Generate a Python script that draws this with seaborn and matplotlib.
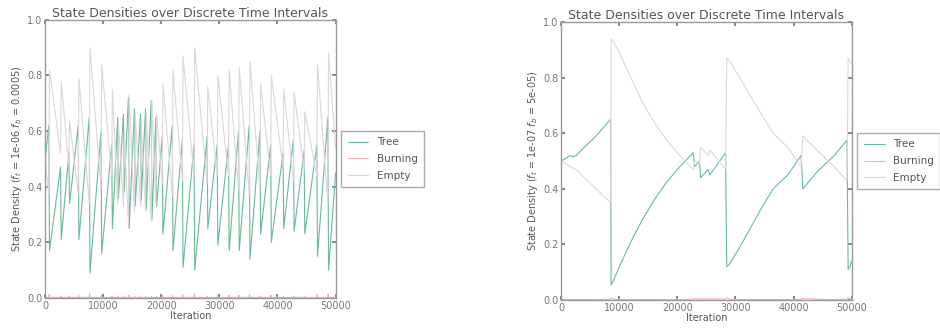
import pandas as pd
import seaborn as sns
import matplotlib
matplotlib.use("Agg")
import matplotlib.pyplot as plt

# 왼쪽: 화재 시점별 나무 밀도 (화재 직전 최고점 / 직후 최저점)
left_fire_iter = [634, 2650, 4090, 5700, 7600, 9620, 11460, 12500, 13480, 14340,
                  15380, 16420, 17280, 18260, 19070, 20160, 21890, 23620, 25630, 27880,
                  29610, 31560, 33290, 35140, 36980, 38820, 40950, 42740, 44580, 46770,
                  48670]
left_tree_peak = [0.62, 0.47, 0.52, 0.62, 0.65, 0.60, 0.55, 0.65, 0.66, 0.72,
                  0.68, 0.66, 0.68, 0.71, 0.65, 0.58, 0.62, 0.57, 0.55, 0.58,
                  0.55, 0.55, 0.60, 0.62, 0.60, 0.55, 0.52, 0.57, 0.53, 0.55,
                  0.65]
left_tree_low = [0.17, 0.21, 0.34, 0.21, 0.09, 0.16, 0.25, 0.36, 0.38, 0.25,
                 0.33, 0.35, 0.32, 0.28, 0.33, 0.23, 0.17, 0.11, 0.10, 0.25,
                 0.19, 0.17, 0.17, 0.14, 0.23, 0.20, 0.25, 0.24, 0.23, 0.15,
                 0.10]
left_empty_low = [0.37, 0.52, 0.47, 0.37, 0.34, 0.39, 0.44, 0.34, 0.33, 0.27,
                  0.31, 0.33, 0.31, 0.28, 0.34, 0.41, 0.37, 0.42, 0.44, 0.41,
                  0.44, 0.44, 0.39, 0.37, 0.39, 0.44, 0.47, 0.42, 0.46, 0.44,
                  0.34]
left_empty_peak = [0.82, 0.78, 0.64, 0.79, 0.90, 0.84, 0.75, 0.63, 0.60, 0.73,
                   0.66, 0.64, 0.67, 0.71, 0.66, 0.77, 0.82, 0.87, 0.90, 0.76,
                   0.80, 0.82, 0.83, 0.85, 0.77, 0.80, 0.75, 0.74, 0.67, 0.84,
                   0.88]
left_burning_fire = [0.012, 0.006, 0.006, 0.01, 0.015, 0.01, 0.006, 0.005, 0.005, 0.01,
                     0.005, 0.005, 0.005, 0.006, 0.005, 0.01, 0.01, 0.012, 0.015, 0.006,
                     0.01, 0.01, 0.01, 0.012, 0.006, 0.01, 0.006, 0.006, 0.006, 0.012,
                     0.015]
left_start = [0.50, 0.50]   # tree, empty at iteration 0
left_end = [0.45, 0.54]     # tree, empty at iteration 50000

# 오른쪽
right_iter = [0, 800, 1500, 2000, 2600, 4000, 6000, 8500,
              8600, 9000, 10000, 12000, 14000, 16000, 18000, 20000,
              22700, 23000, 23800, 24000, 25300, 25600, 28300, 28500,
              29000, 31000, 33000, 35000, 36500, 39000, 41300, 41600,
              44000, 47000, 49200, 49400, 49700, 50000]
right_tree = [0.50, 0.51, 0.52, 0.515, 0.52, 0.55, 0.59, 0.65,
              0.055, 0.07, 0.12, 0.21, 0.29, 0.36, 0.42, 0.47,
              0.53, 0.48, 0.50, 0.44, 0.47, 0.45, 0.53, 0.12,
              0.13, 0.20, 0.275, 0.35, 0.40, 0.45, 0.52, 0.40,
              0.46, 0.52, 0.575, 0.11, 0.12, 0.14]
right_empty = [0.50, 0.49, 0.48, 0.475, 0.47, 0.44, 0.40, 0.35,
               0.94, 0.93, 0.89, 0.80, 0.71, 0.64, 0.58, 0.53,
               0.47, 0.50, 0.49, 0.55, 0.52, 0.54, 0.47, 0.87,
               0.86, 0.79, 0.72, 0.65, 0.60, 0.55, 0.48, 0.59,
               0.54, 0.48, 0.43, 0.87, 0.86, 0.85]
right_burning = [0.0, 0.002, 0.002, 0.002, 0.002, 0.002, 0.002, 0.003,
                 0.008, 0.003, 0.002, 0.002, 0.002, 0.002, 0.002, 0.002,
                 0.003, 0.006, 0.003, 0.006, 0.003, 0.005, 0.003, 0.008,
                 0.003, 0.002, 0.002, 0.002, 0.002, 0.002, 0.003, 0.006,
                 0.003, 0.002, 0.003, 0.01, 0.004, 0.003]

states = ["Tree", "Burning", "Empty"]
colors = {"Tree": "#68bc93", "Burning": "#f3b0b0", "Empty": "#ddd6dd"}


def left_frame():
    rows = [(0, "Tree", left_start[0]), (0, "Burning", 0.0), (0, "Empty", left_start[1])]
    for i, it in enumerate(left_fire_iter):
        rows.append((it, "Tree", left_tree_peak[i]))
        rows.append((it + 120, "Tree", left_tree_low[i]))
        rows.append((it, "Empty", left_empty_low[i]))
        rows.append((it + 120, "Empty", left_empty_peak[i]))
        rows.append((it, "Burning", 0.002))
        rows.append((it + 60, "Burning", left_burning_fire[i]))
        rows.append((it + 120, "Burning", 0.002))
    rows += [(50000, "Tree", left_end[0]), (50000, "Burning", 0.002), (50000, "Empty", left_end[1])]
    return pd.DataFrame(rows, columns=["Iteration", "state", "density"])


def right_frame():
    df = pd.DataFrame({"Iteration": right_iter, "Tree": right_tree,
                       "Burning": right_burning, "Empty": right_empty})
    return df.melt(id_vars="Iteration", var_name="state", value_name="density")


sns.set_theme(style="white")
plt.rcParams["font.family"] = ["DejaVu Sans"]
plt.rcParams["text.color"] = "#555555"
plt.rcParams["axes.labelcolor"] = "#555555"
plt.rcParams["xtick.color"] = "#777777"
plt.rcParams["ytick.color"] = "#777777"

fig = plt.figure(figsize=(9.4, 3.28), dpi=100)
ax1 = fig.add_axes([0.048, 0.0915, 0.309, 0.848])
ax2 = fig.add_axes([0.597, 0.085, 0.309, 0.848])

panels = [
    (ax1, left_frame(), r"State Density ($f_t$ = 1e-06 $f_b$ = 0.0005)"),
    (ax2, right_frame(), r"State Density ($f_t$ = 1e-07 $f_b$ = 5e-05)"),
]

for ax, df, ylab in panels:
    sns.lineplot(data=df, x="Iteration", y="density", hue="state", hue_order=states,
                 palette=colors, estimator=None, sort=True, linewidth=0.8, ax=ax)
    ax.set_xlim(0, 50000)
    ax.set_ylim(0, 1.0)
    ax.set_xticks([0, 10000, 20000, 30000, 40000, 50000])
    ax.set_yticks([0.0, 0.2, 0.4, 0.6, 0.8, 1.0])
    ax.tick_params(direction="in", length=3, labelsize=7, top=True, right=True,
                   bottom=True, left=True, pad=2)
    ax.set_title("State Densities over Discrete Time Intervals", fontsize=9, pad=2)
    ax.set_xlabel("Iteration", fontsize=7, labelpad=0)
    ax.set_ylabel(ylab, fontsize=7, labelpad=2)
    for s in ax.spines.values():
        s.set_color("#999999")
        s.set_linewidth(1.0)
    leg = ax.legend(loc="upper left", bbox_to_anchor=(1.02, 0.6), borderaxespad=0,
                    fontsize=7.5, frameon=True, fancybox=False, borderpad=0.6,
                    handlelength=2.0, labelspacing=0.65)
    leg.get_frame().set_edgecolor("#999999")
    for t in leg.get_texts():
        t.set_color("#555555")

fig.savefig("out.png", dpi=100)
